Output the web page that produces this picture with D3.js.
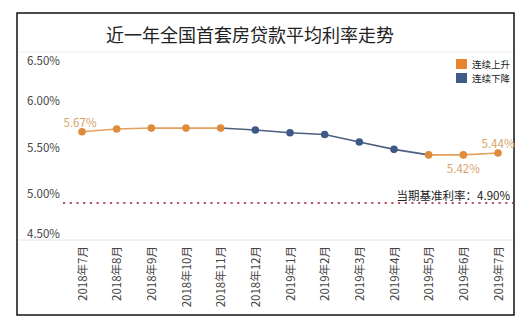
<!DOCTYPE html>
<html><head><meta charset="utf-8">
<script src="https://cdn.jsdelivr.net/npm/d3@7/dist/d3.min.js"></script>
<style>
html,body{margin:0;padding:0;background:#fff;}
svg{display:block;font-family:"Noto Sans CJK SC","Noto Sans",sans-serif;}
</style></head>
<body>
<svg id="chart" width="531" height="327"></svg>
<script>
const title = "近一年全国首套房贷款平均利率走势";
const categories = ["2018年7月","2018年8月","2018年9月","2018年10月","2018年11月","2018年12月",
  "2019年1月","2019年2月","2019年3月","2019年4月","2019年5月","2019年6月","2019年7月"];
const rates = [5.67,5.70,5.71,5.71,5.71,5.69,5.66,5.64,5.56,5.48,5.42,5.42,5.44];
const trend = ["up","up","up","up","up","down","down","down","down","down","up","up","up"];
const yTicks = [4.5,5.0,5.5,6.0,6.5];
const baseRate = 4.90;
const baseLabel = "当期基准利率：4.90%";
const legendLabels = ["连续上升","连续下降"];
const legendKeys = ["up","down"];
const valueLabels = [{i:0,pos:"above"},{i:11,pos:"below"},{i:12,pos:"above"}];

const pointColor = {up:"#de8c3a", down:"#3f5987"};
const lineColor = {up:"#e4a15c", down:"#4b607f"};
const legendColor = {up:"#e8842f", down:"#3f5a86"};

const svg = d3.select("#chart");
// frame
svg.append("rect").attr("x",17).attr("y",13).attr("width",497).attr("height",302)
  .attr("fill","#fff").attr("stroke","#111").attr("stroke-width",1.5);
svg.append("text").attr("x",250).attr("y",34).attr("text-anchor","middle")
  .attr("dominant-baseline","central").attr("font-size",18).attr("fill","#222").text(title);
svg.append("line").attr("x1",18).attr("x2",513).attr("y1",52).attr("y2",52)
  .attr("stroke","#eeeeee").attr("stroke-width",1.2);

const x = d3.scalePoint().domain(categories).range([82,498]);
const y = d3.scaleLinear().domain([4.5,6.5]).range([240,55]);

// x axis baseline
svg.append("line").attr("x1",18).attr("x2",513).attr("y1",y(4.5)).attr("y2",y(4.5))
  .attr("stroke","#e4e4e4").attr("stroke-width",1);

// y labels
const yAxis = d3.axisLeft(y).tickValues(yTicks).tickFormat(d=>d3.format(".2f")(d)+"%").tickSize(0);
const yg = svg.append("g").attr("transform","translate(27,0)").call(yAxis);
yg.select(".domain").remove();
yg.selectAll("text").attr("text-anchor","start").attr("x",0).attr("font-size",11.5)
  .attr("fill","#444").attr("font-family","'Noto Sans CJK SC','Noto Sans',sans-serif")
  .attr("dy",d=> d===6.5 ? "0.85em" : d===4.5 ? "-0.2em" : "0.32em");

// x labels
const xAxis = d3.axisBottom(x).tickSize(0);
const xg = svg.append("g").attr("transform","translate(0,246)").call(xAxis);
xg.select(".domain").remove();
xg.selectAll("text").attr("transform","rotate(-90)").attr("text-anchor","end")
  .attr("x",0).attr("y",0).attr("dy","0.35em").attr("font-size",11.5).attr("fill","#444")
  .attr("font-family","'Noto Sans CJK SC','Noto Sans',sans-serif");

// base rate dotted line
svg.append("line").attr("x1",63).attr("x2",513).attr("y1",y(baseRate)).attr("y2",y(baseRate))
  .attr("stroke","#b3566b").attr("stroke-width",2.2).attr("stroke-dasharray","2.2 4.5");
svg.append("text").attr("x",510).attr("y",y(baseRate)-8).attr("text-anchor","end")
  .attr("dominant-baseline","central").attr("font-size",11.5).attr("fill","#222").text(baseLabel);

// line segments
const segs = d3.range(rates.length-1).map(i=>({i, dir: rates[i+1] < rates[i] ? "down" : (trend[i+1])}));
svg.append("g").selectAll("line").data(segs).join("line")
  .attr("x1",d=>x(categories[d.i])).attr("y1",d=>y(rates[d.i]))
  .attr("x2",d=>x(categories[d.i+1])).attr("y2",d=>y(rates[d.i+1]))
  .attr("stroke",d=>lineColor[d.dir]).attr("stroke-width",1.6);

// points
svg.append("g").selectAll("circle").data(rates).join("circle")
  .attr("cx",(d,i)=>x(categories[i])).attr("cy",d=>y(d)).attr("r",3.8)
  .attr("fill",(d,i)=>pointColor[trend[i]]);

// value labels
svg.append("g").selectAll("text").data(valueLabels).join("text")
  .attr("x",d=>x(categories[d.i]) - (d.i===0?2:0))
  .attr("y",d=>y(rates[d.i]) + (d.pos==="above" ? -10 : 13))
  .attr("text-anchor","middle").attr("dominant-baseline","central")
  .attr("font-size",11.5).attr("fill","#d9a46c")
  .text(d=>d3.format(".2f")(rates[d.i])+"%");

// legend
const lg = svg.append("g").selectAll("g").data(legendKeys).join("g")
  .attr("transform",(d,i)=>`translate(456,${59+i*14})`);
lg.append("rect").attr("width",11).attr("height",10).attr("fill",d=>legendColor[d]);
lg.append("text").attr("x",16).attr("y",5).attr("dominant-baseline","central")
  .attr("font-size",9.5).attr("fill","#222").text((d,i)=>legendLabels[i]);
</script>
</body></html>
